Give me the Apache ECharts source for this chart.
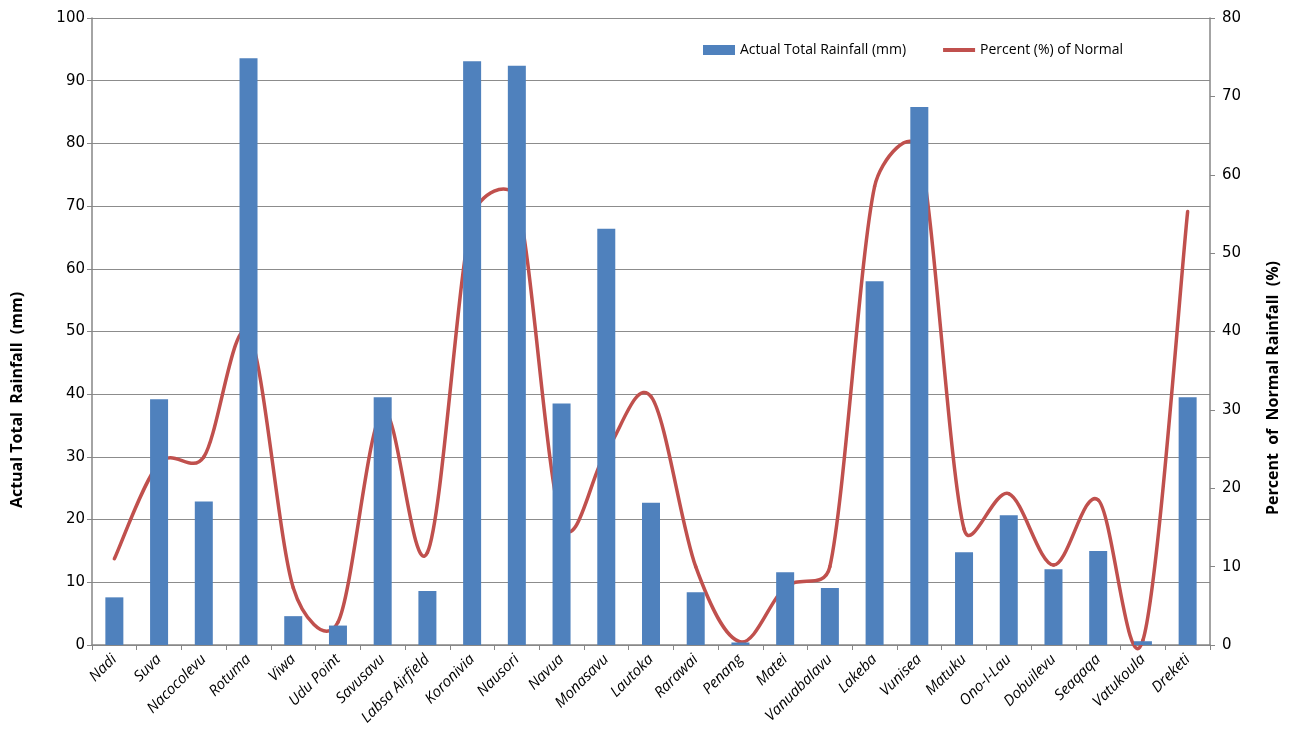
<!DOCTYPE html>
<html>
<head>
<meta charset="utf-8">
<script src="https://cdn.jsdelivr.net/npm/echarts@6/dist/echarts.min.js"></script>
<style>
  html, body { margin: 0; padding: 0; background: #fff; }
  #chart { width: 1289px; height: 749px; }
</style>
</head>
<body>
<div id="chart"></div>
<script>
// Stations along the x axis
const stations = ['Nadi', 'Suva', 'Nacocolevu', 'Rotuma', 'Viwa', 'Udu Point', 'Savusavu',
  'Labsa Airfield', 'Koronivia', 'Nausori', 'Navua', 'Monasavu', 'Lautoka', 'Rarawai',
  'Penang', 'Matei', 'Vanuabalavu', 'Lakeba', 'Vunisea', 'Matuku', 'Ono-I-Lau',
  'Dobuilevu', 'Seaqaqa', 'Vatukoula', 'Dreketi'];

// Actual total rainfall (mm)
const rainfallMm = [7.6, 39.2, 22.9, 93.6, 4.6, 3.1, 39.5, 8.6, 93.1, 92.4, 38.5, 66.4,
  22.7, 8.4, 0.4, 11.6, 9.1, 58.0, 85.8, 14.8, 20.7, 12.1, 15.0, 0.6, 39.5];

// Percent (%) of normal rainfall
const percentNormal = [11.0, 23.2, 24.0, 39.8, 7.3, 2.9, 29.8, 11.8, 54.6, 56.8, 15.7, 24.7,
  31.7, 10.0, 0.4, 7.4, 10.0, 58.5, 63.0, 14.8, 19.3, 10.2, 18.5, 0.6, 55.3];

const axisGrey = '#868686';
const gridGrey = '#8c8c8c';
const tickFont = 'DejaVu Sans';
const textFont = 'Open Sans';
const lineRed = '#C0504D';
const barBlue = '#4F81BD';

// Smooth curve segment from point i to i+1: cubic Bezier with Catmull-Rom
// tangents, each control arm limited to half of the segment length.
function renderSmoothSegment(params, api) {
  const i = params.dataIndex;
  const n = percentNormal.length;
  if (i >= n - 1) return null;
  const pt = (j) => {
    const k = Math.max(0, Math.min(n - 1, j));
    return api.coord([k, percentNormal[k]]);
  };
  const dist = (a, b) => Math.hypot(b[0] - a[0], b[1] - a[1]);
  const p0 = pt(i - 1), p1 = pt(i), p2 = pt(i + 1), p3 = pt(i + 2);
  const d12 = dist(p1, p2), d02 = dist(p0, p2), d13 = dist(p1, p3);
  const f1 = d02 / 6 < d12 / 2 ? 1 / 6 : (d12 / 2) / d02;
  const f2 = d13 / 6 < d12 / 2 ? 1 / 6 : (d12 / 2) / d13;
  return {
    type: 'bezierCurve',
    shape: {
      x1: p1[0], y1: p1[1],
      x2: p2[0], y2: p2[1],
      cpx1: p1[0] + (p2[0] - p0[0]) * f1,
      cpy1: p1[1] + (p2[1] - p0[1]) * f1,
      cpx2: p2[0] - (p3[0] - p1[0]) * f2,
      cpy2: p2[1] - (p3[1] - p1[1]) * f2
    },
    style: { stroke: lineRed, lineWidth: 3.5, fill: null, lineCap: 'round' }
  };
}

const chart = echarts.init(document.getElementById('chart'), null, { renderer: 'canvas' });

chart.setOption({
  animation: false,
  backgroundColor: '#ffffff',
  grid: { left: 92, right: 79, top: 18, bottom: 104, containLabel: false },
  legend: {
    left: 698,
    top: 38,
    itemWidth: 32,
    itemHeight: 10,
    itemGap: 37,
    textStyle: { fontFamily: textFont, fontSize: 14, color: '#000' },
    data: [
      { name: 'Actual Total Rainfall (mm)', icon: 'rect', itemStyle: { color: barBlue } },
      { name: 'Percent (%) of Normal', icon: 'path://M0,0 L32,0 L32,4 L0,4 Z', itemStyle: { color: lineRed } }
    ]
  },
  graphic: [
    {
      type: 'text',
      x: 17, y: 400,
      rotation: Math.PI / 2,
      style: {
        text: 'Actual Total  Rainfall  (mm)',
        fontFamily: textFont, fontWeight: 'bold', fontSize: 16, fill: '#000',
        align: 'center', verticalAlign: 'middle'
      }
    },
    {
      type: 'text',
      x: 1273, y: 388,
      rotation: Math.PI / 2,
      style: {
        text: 'Percent  of  Normal Rainfall  (%)',
        fontFamily: textFont, fontWeight: 'bold', fontSize: 16, fill: '#000',
        align: 'center', verticalAlign: 'middle'
      }
    }
  ],
  xAxis: {
    type: 'category',
    data: stations,
    boundaryGap: true,
    axisLine: { lineStyle: { color: axisGrey, width: 1.5 } },
    axisTick: { show: true, length: 5, lineStyle: { color: axisGrey } },
    axisLabel: {
      rotate: 45,
      interval: 0,
      margin: 12,
      fontFamily: textFont,
      fontStyle: 'italic',
      fontSize: 15,
      color: '#000'
    },
    splitLine: { show: false }
  },
  yAxis: [
    {
      type: 'value',
      min: 0,
      max: 100,
      interval: 10,
      axisLine: { show: true, lineStyle: { color: axisGrey, width: 1.5 } },
      axisTick: { show: true, length: 5, lineStyle: { color: axisGrey } },
      axisLabel: { fontFamily: tickFont, fontSize: 15, color: '#000', margin: 7 },
      splitLine: { show: true, lineStyle: { color: gridGrey, width: 1.2 } }
    },
    {
      type: 'value',
      min: 0,
      max: 80,
      interval: 10,
      position: 'right',
      axisLine: { show: true, lineStyle: { color: axisGrey, width: 1.5 } },
      axisTick: { show: true, length: 5, lineStyle: { color: axisGrey } },
      axisLabel: { fontFamily: tickFont, fontSize: 15, color: '#000', margin: 12 },
      splitLine: { show: false }
    }
  ],
  series: [
    {
      name: 'Actual Total Rainfall (mm)',
      type: 'bar',
      yAxisIndex: 0,
      data: rainfallMm,
      barWidth: 18,
      itemStyle: { color: barBlue }
    },
    {
      name: 'Percent (%) of Normal',
      type: 'custom',
      yAxisIndex: 1,
      data: percentNormal,
      clip: false,
      itemStyle: { color: lineRed },
      renderItem: renderSmoothSegment
    }
  ]
});
</script>
</body>
</html>
